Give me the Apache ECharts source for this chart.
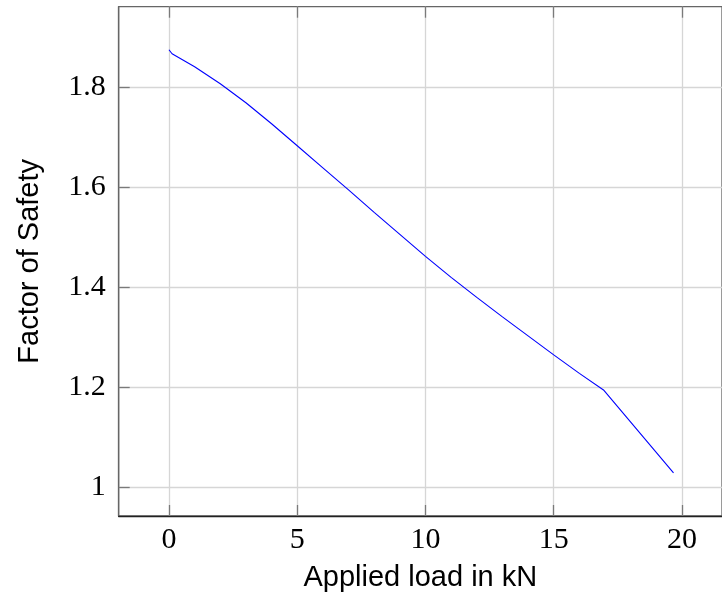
<!DOCTYPE html>
<html>
<head>
<meta charset="utf-8">
<script src="https://cdn.jsdelivr.net/npm/echarts@6/dist/echarts.min.js"></script>
<style>
  html, body { margin: 0; padding: 0; background: #fff; }
  #chart { width: 722px; height: 600px; }
</style>
</head>
<body>
<div id="chart"></div>
<script>
// applied load (kN) and factor of safety
const loadKN = [0, 0.12, 1, 2, 3, 4, 5, 6, 7, 8, 9, 10, 11, 12, 13, 14, 15, 16, 16.94, 19.67];
const factorOfSafety = [1.875, 1.867, 1.841, 1.807, 1.769, 1.727, 1.683, 1.639, 1.595, 1.550, 1.506,
  1.462, 1.420, 1.380, 1.341, 1.303, 1.265, 1.228, 1.195, 1.029];

const xTicks = [0, 5, 10, 15, 20];
const yTicks = [1, 1.2, 1.4, 1.6, 1.8];

const serif = '"Liberation Serif", "DejaVu Serif", serif';
const sans = '"Liberation Sans", "DejaVu Sans", sans-serif';

const points = loadKN.map((x, i) => [x, factorOfSafety[i]]);

const chart = echarts.init(document.getElementById('chart'), null, { renderer: 'canvas' });

const gridLine = { show: true, lineStyle: { color: '#d6d6d6', width: 1.3 } };
const innerTick = { show: true, inside: true, length: 11, lineStyle: { color: '#7a7a7a', width: 1.3 } };

chart.setOption({
  animation: false,
  backgroundColor: '#fff',
  grid: {
    left: 118.7, top: 6.7, bottom: 84, right: -10.3,
    show: true, borderColor: '#666', borderWidth: 1.3, containLabel: false
  },
  xAxis: [
    {
      type: 'value', min: -1.96, max: 21.56,
      name: 'Applied load in kN', nameLocation: 'middle', nameGap: 47,
      nameTextStyle: { fontFamily: sans, fontSize: 29, color: '#000' },
      axisLine: { show: true, onZero: false, lineStyle: { color: '#222', width: 1.3 } },
      axisTick: Object.assign({ customValues: xTicks }, innerTick),
      axisLabel: { customValues: xTicks, fontFamily: serif, fontSize: 30, color: '#000', margin: 9 },
      splitLine: gridLine
    },
    {
      type: 'value', min: -1.96, max: 21.56, position: 'top',
      axisLine: { show: false },
      axisTick: Object.assign({ customValues: xTicks }, innerTick),
      axisLabel: { show: false },
      splitLine: { show: false }
    }
  ],
  yAxis: {
    type: 'value', min: 0.943, max: 1.961,
    name: 'Factor of Safety', nameLocation: 'middle', nameGap: 74, nameRotate: 90,
    nameTextStyle: { fontFamily: sans, fontSize: 29, color: '#000' },
    axisLine: { show: true, onZero: false, lineStyle: { color: '#666', width: 1.3 } },
    axisTick: Object.assign({ customValues: yTicks }, innerTick),
    axisLabel: { customValues: yTicks, fontFamily: serif, fontSize: 30, color: '#000', margin: 13 },
    splitLine: gridLine
  },
  series: [
    {
      type: 'line',
      data: points,
      xAxisIndex: 0,
      showSymbol: false,
      symbol: 'none',
      lineStyle: { color: '#0000ff', width: 1.1 },
      clip: true
    }
  ]
});
</script>
</body>
</html>
